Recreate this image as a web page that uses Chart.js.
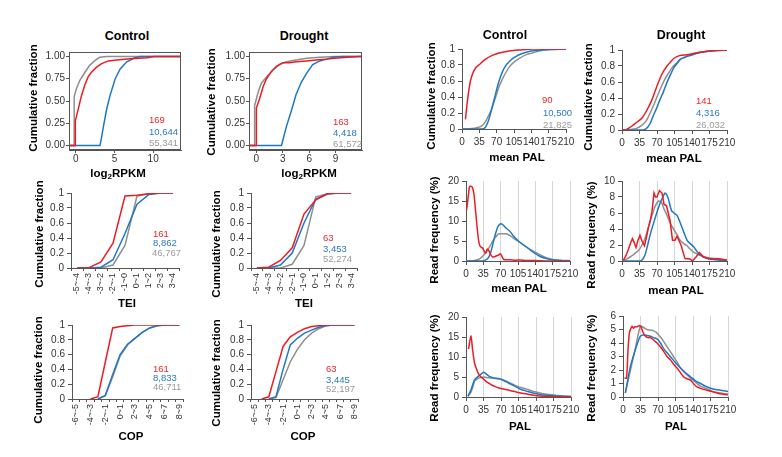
<!DOCTYPE html>
<html><head><meta charset="utf-8">
<title>Cumulative fraction and read frequency</title>
<script src="https://cdn.jsdelivr.net/npm/chart.js@4.4.1/dist/chart.umd.min.js"></script>
<style>
html,body{margin:0;padding:0;background:#fff}
body{width:782px;height:457px;position:relative;overflow:hidden;font-family:"Liberation Sans",Arial,sans-serif}
canvas{position:absolute}
.lb{position:absolute;white-space:nowrap;line-height:1;z-index:5}
.c{transform:translate(-50%,-50%);font-weight:bold;color:#000}
.r{transform:translate(-50%,-50%) rotate(-90deg);font-weight:bold;color:#000;font-size:11.5px}
.x{font-size:11.5px}
.n{transform:translateY(-50%);font-size:9.5px}
.red{color:#e8262c}.blue{color:#2b78c0}.gray{color:#9a9a9a}
sub{font-size:0.7em;vertical-align:-0.25em;line-height:0}
</style></head><body>
<script>
// ---------- categories and ticks ----------
const teiCats = ['-5~-4','-4~-3','-3~-2','-2~-1','-1~0','0~1','1~2','2~3','3~4'];
const copCats = ['-6~-5','-5~-4','-4~-3','-3~-2','-2~-1','-1~0','0~1','1~2','2~3','3~4','4~5','5~6','6~7','7~8','8~9'];
const rpkmYTicks = [0,0.25,0.5,0.75,1];
const rpkmCtrlXTicks = [0,5,10];
const rpkmDrXTicks = [0,3,6,9];
const cumYTicks = [0,0.2,0.4,0.6,0.8,1];
const palXTicks = [0,35,70,105,140,175,210];
const freqCtrlYTicks = [0,5,10,15,20];
const freqDrMeanYTicks = [0,2,4,6,8,10];
const freqDrPalYTicks = [0,1,2,3,4,5,6];

// ---------- log2RPKM, Control ----------
const rpkmCtrlRedX = [-0.87,-0.05,-0.05,0.1,0.3,0.74,1.17,1.6,2.0,2.7,3.35,4.2,5.3,7.0,9.2,10.1,13.6];
const rpkmCtrlRedY = [0,0,0.28,0.33,0.4,0.56,0.68,0.77,0.82,0.88,0.92,0.95,0.96,0.975,0.985,1,1];
const rpkmCtrlBlueX = [-0.87,3.13,3.35,3.57,4.0,4.43,5.1,5.74,6.6,7.5,8.3,13.6];
const rpkmCtrlBlueY = [0,0,0.1,0.21,0.41,0.56,0.75,0.86,0.94,0.98,1,1];
const rpkmCtrlGrayX = [-0.87,-0.2,-0.2,0.1,0.52,1.17,1.8,2.5,3.1,4.0,13.6];
const rpkmCtrlGrayY = [0,0,0.55,0.64,0.73,0.82,0.9,0.955,0.99,1,1];
// ---------- log2RPKM, Drought ----------
const rpkmDrRedX = [-0.84,0,0,0.38,0.76,1.14,1.7,2.27,3.0,3.8,4.5,5.7,6.8,7.95,9.5,11.7,12];
const rpkmDrRedY = [0,0,0.42,0.53,0.66,0.75,0.83,0.89,0.93,0.93,0.94,0.95,0.96,0.97,0.985,1,1];
const rpkmDrBlueX = [-0.84,2.85,3.4,4.0,4.5,5.1,5.7,6.4,7.2,8.0,8.7,9.8,12];
const rpkmDrBlueY = [0,0,0.21,0.4,0.57,0.71,0.81,0.91,0.95,0.97,0.99,1,1];
const rpkmDrGrayX = [-0.84,-0.2,-0.2,0.2,0.57,1.14,1.9,2.65,3.4,4.5,5.7,7.2,9,12];
const rpkmDrGrayY = [0,0,0.45,0.6,0.7,0.77,0.85,0.91,0.94,0.96,0.98,0.99,1,1];

// ---------- TEI ----------
const teiCtrlRed = [0,0.005,0.08,0.33,0.96,0.97,0.99,1,1];
const teiCtrlBlue = [0,0,0.01,0.11,0.46,0.85,0.98,1,1];
const teiCtrlGray = [0,0,0,0.04,0.3,0.96,0.99,1,1];
const teiDrRed = [0,0.01,0.1,0.27,0.72,0.91,0.99,1,1];
const teiDrBlue = [0,0,0.04,0.2,0.6,0.92,0.99,1,1];
const teiDrGray = [0,0,0,0.05,0.3,0.95,0.99,1,1];

// ---------- COP ----------
const copCtrlRed = [null,null,0,0.03,0.5,0.96,0.98,0.99,1,1,1,1,1,1,1];
const copCtrlBlue = [null,null,null,0,0.05,0.33,0.6,0.74,0.82,0.9,0.96,0.99,1,1,1];
const copCtrlGray = [null,null,null,0,0.04,0.3,0.58,0.73,0.82,0.9,0.96,0.99,1,1,1];
const copDrRed = [null,0,0.03,0.37,0.71,0.84,0.9,0.95,0.98,0.99,1,1,1,1,1];
const copDrBlue = [null,null,0,0.03,0.4,0.73,0.82,0.89,0.93,0.97,0.99,1,1,1,1];
const copDrGray = [null,null,0,0.02,0.26,0.5,0.67,0.8,0.89,0.95,0.99,1,1,1,1];

// ---------- mean PAL cumulative ----------
const palCumCtrlRedX = [7,10,13.5,17,22,27,34,47,61,75,95,122,142,210];
const palCumCtrlRedY = [0.12,0.3,0.47,0.6,0.7,0.76,0.8,0.87,0.92,0.95,0.975,0.99,1,1];
const palCumCtrlBlueX = [0,40,47,52,57,62,67,72,77,82,88,95,102,110,120,135,150,175,210];
const palCumCtrlBlueY = [0,0,0.02,0.08,0.18,0.3,0.42,0.54,0.64,0.72,0.79,0.84,0.88,0.91,0.94,0.97,0.98,0.995,1];
const palCumCtrlGrayX = [0,20,30,40,47,54,61,68,75,82,88,95,102,115,130,142,160,175,210];
const palCumCtrlGrayY = [0,0.005,0.015,0.04,0.09,0.17,0.27,0.4,0.53,0.63,0.7,0.77,0.82,0.88,0.93,0.95,0.98,0.99,1];
const palCumDrRedX = [0,8,10,20,30,40,50,60,70,80,90,97,105,115,130,145,160,180,210];
const palCumDrRedY = [0,0,0.01,0.05,0.1,0.15,0.25,0.38,0.55,0.7,0.8,0.85,0.9,0.93,0.94,0.96,0.975,0.99,1];
const palCumDrBlueX = [0,42,47,52,57,62,69,76,83,89,96,103,110,116,126,136,156,183,210];
const palCumDrBlueY = [0,0,0.01,0.04,0.09,0.17,0.27,0.38,0.48,0.58,0.68,0.77,0.83,0.88,0.91,0.93,0.97,0.99,1];
const palCumDrGrayX = [0,15,29,40,49,59,66,73,80,86,93,99,108,116,126,136,156,180,210];
const palCumDrGrayY = [0,0.005,0.02,0.06,0.12,0.25,0.35,0.46,0.56,0.64,0.71,0.77,0.83,0.88,0.91,0.94,0.97,0.99,1];

// ---------- mean PAL read frequency ----------
const freqMeanCtrlRedX = [1,4,7,10,13,16,19,22,25,28,31,34,37,40,43,46,50,54,58,62,66,69,72,76,80,90,100,110,120,130,140,150,160,210];
const freqMeanCtrlRedY = [12.7,15.5,18.5,18.7,18.4,16.8,13,9,5.5,3.8,3.4,3.2,2.4,2.0,3.0,2.6,1.6,1.0,1.1,1.3,1.5,1.8,1.3,0.4,0.3,0.3,0.2,0.25,0.15,0.1,0.1,0.05,0,0];
const freqMeanCtrlBlueX = [0,35,40,45,50,55,60,65,70,75,80,88,95,108,122,135,148,162,176,190,210];
const freqMeanCtrlBlueY = [0,0,0.3,0.8,2.2,4.6,7.0,8.7,9.3,9.0,8.3,7.5,6.4,4.75,3.5,2.25,1.25,0.6,0.25,0.1,0];
const freqMeanCtrlGrayX = [0,10,17,25,30,35,41,48,55,60,65,70,75,81,88,95,108,122,135,149,162,175,190,210];
const freqMeanCtrlGrayY = [0,0,0.1,0.4,0.8,1.4,2.25,3.6,5.2,6.0,6.7,6.8,6.8,6.8,6.4,5.8,4.75,3.5,2.5,1.6,0.8,0.4,0.2,0.1];
const freqMeanDrRedX = [3,8,13,18,21,25,28,32,36,40,45,49,53,57,60,64,67,70,75,80,84,89,96,101,106,110,118,126,136,141,148,155,163,176,190,203,210];
const freqMeanDrRedY = [0.1,0.7,1.5,2.4,2.8,2.2,1.7,2.6,3.2,2.5,1.9,3.0,4.2,5.2,6.2,8.5,8.0,8.0,8.8,8.5,7.1,6.9,5.1,2.6,2.6,3.1,2.0,0.3,0.25,0,0.5,1.05,0.5,0.25,0.3,0.2,0.1];
const freqMeanDrBlueX = [0,36,41,46,51,56,61,66,71,76,81,86,90,93,99,104,110,116,123,130,136,143,150,156,163,170,183,196,210];
const freqMeanDrBlueY = [0,0,0.2,0.75,1.9,3.2,4.3,5.3,6.3,7.2,7.9,8.5,8.2,7.7,6.3,6.0,5.7,4.85,3.7,2.6,2.2,1.8,1.2,0.75,0.5,0.3,0.2,0.1,0.05];
const freqMeanDrGrayX = [0,8,16,25,33,40,46,53,60,66,73,79,84,90,96,103,110,116,123,130,136,143,150,156,170,183,196,210];
const freqMeanDrGrayY = [0,0.2,0.5,0.9,1.3,2.0,2.8,4.3,5.7,6.8,7.5,7.3,6.5,5.7,4.8,4.0,3.3,2.6,2.2,1.9,1.5,1.1,0.9,0.7,0.45,0.3,0.2,0.1];

// ---------- PAL read frequency ----------
const freqPalCtrlRedX = [5,10,13,17,21,25,30,35,40,45,50,55,62,70,82,92,102,112,122,132,142,152,162,181,201,210];
const freqPalCtrlRedY = [12,15.3,12,8.5,7,5.8,5,4.5,3.9,3.5,3.1,2.8,2.4,2.1,1.8,1.5,1.2,0.95,0.75,0.5,0.33,0.2,0.15,0.08,0.05,0.03];
const freqPalCtrlBlueX = [4,10,14,17,21,25,30,35,40,45,50,55,60,65,70,75,82,88,95,102,108,115,125,135,145,155,168,181,195,210];
const freqPalCtrlBlueY = [0.2,1.8,3.3,4.3,4.8,5.2,5.7,6.2,5.8,5.3,5.0,4.75,4.7,4.6,4.4,4.1,3.7,3.3,2.9,2.4,2.0,1.7,1.3,1.0,0.7,0.5,0.35,0.25,0.15,0.1];
const freqPalCtrlGrayX = [4,10,14,17,21,25,30,35,40,45,55,68,75,82,88,95,105,115,125,135,145,155,168,181,195,210];
const freqPalCtrlGrayY = [0.2,1.2,2.6,3.9,4.4,4.7,4.9,5.0,4.9,4.8,4.7,4.5,4.25,3.9,3.5,3.1,2.6,2.2,1.8,1.4,1.1,0.8,0.6,0.4,0.25,0.15];
const freqPalDrRedX = [3,7,10,13,16,18,21,24,28,33,36,40,45,50,55,62,68,75,81,88,95,101,108,115,121,128,135,142,148,158,168,178,188,198,208,212];
const freqPalDrRedY = [1.4,1.4,3.5,4.8,5.1,5.25,5.1,5.2,5.2,5.3,5.2,4.8,4.5,4.4,4.4,4.2,4.0,3.7,3.4,3.0,2.75,2.45,2.15,1.8,1.5,1.35,1.25,0.95,0.75,0.6,0.5,0.4,0.3,0.22,0.17,0.15];
const freqPalDrBlueX = [4.7,14.7,24.7,30,34.7,41,48,55,61,68,75,81,90,98,106,115,125,135,145,155,165,175,185,195,205,212];
const freqPalDrBlueY = [0.3,2.25,3.5,4.1,4.5,4.6,4.55,4.5,4.4,4.3,4.0,3.6,3.2,2.85,2.5,2.15,1.8,1.5,1.2,1.0,0.8,0.65,0.55,0.5,0.45,0.4];
const freqPalDrGrayX = [4.7,14.7,24.7,34.7,41,48,55,61,66,71,78,85,93,101,108,115,125,135,145,155,168,181,195,208,212];
const freqPalDrGrayY = [0.3,1.95,3.6,5.25,5.15,5.0,4.95,4.9,4.8,4.6,4.3,3.9,3.45,3.0,2.6,2.15,1.75,1.4,1.1,0.8,0.6,0.4,0.3,0.22,0.2];

// ---------- drawing ----------
const RED = '#ec1c24', BLUE = '#1f78c4', GRAY = '#8f8f8f', AXC = '#555';
Chart.defaults.font.family = "'Liberation Sans', Arial, sans-serif";
Chart.defaults.font.size = 10;
Chart.defaults.color = '#333';
Chart.defaults.animation = false;

const framePlugin = {
  id: 'frame',
  afterDraw(ch) {
    const a = ch.chartArea, ctx = ch.ctx;
    ctx.save(); ctx.strokeStyle = AXC; ctx.lineWidth = 1;
    ctx.strokeRect(Math.round(a.left) + 0.5, Math.round(a.top) + 0.5, Math.round(a.right - a.left) - 1, Math.round(a.bottom - a.top) - 1);
    ctx.restore();
  }
};

function xy(xs, ys) { return xs.map((x, i) => ({ x: x, y: ys[i] })); }
function ds(data, color, extra) {
  return Object.assign({ data: data, borderColor: color, backgroundColor: color, borderWidth: 1.5,
    pointRadius: 0, pointHoverRadius: 0, fill: false, tension: 0, showLine: true }, extra || {});
}
const fmtNum = v => String(+v.toFixed(2));

function makePanel(p) {
  const padL = 46, padT = 8, padR = 18, padB = 50, YW = 36, XH = 42;
  const L = Math.round(p.L), T = Math.round(p.T), R = Math.round(p.R), B = Math.round(p.B);
  const cv = document.createElement('canvas');
  const W = R - L + padL + padR, H = B - T + padT + padB;
  cv.width = W; cv.height = H;
  cv.style.left = (L - padL) + 'px'; cv.style.top = (T - padT) + 'px';
  cv.style.width = W + 'px'; cv.style.height = H + 'px';
  document.body.appendChild(cv);

  const y = {
    type: 'linear', min: p.ymin, max: p.ymax,
    afterBuildTicks: s => { s.ticks = p.yticks.map(v => ({ value: v })); },
    afterFit: s => { s.width = YW; s.paddingTop = 0; s.paddingBottom = 0; },
    ticks: { autoSkip: false, callback: p.yfmt || fmtNum, padding: p.gg ? 1 : 3, color: '#333', font: { size: 10 } },
    grid: { drawOnChartArea: false, tickLength: p.gg ? 3 : 4, color: AXC, tickColor: AXC },
    border: { color: AXC, width: 1 }
  };
  let x;
  if (p.cats) {
    x = {
      type: 'category', offset: true,
      afterFit: s => { s.height = XH; s.paddingLeft = 0; s.paddingRight = 0; },
      ticks: { autoSkip: false, minRotation: 90, maxRotation: 90, padding: 2, color: '#333', font: { size: 9 },
        callback: (v, i) => (p.every2 && i % 2) ? '' : p.cats[i] },
      grid: { offset: true, drawOnChartArea: false, tickLength: 3, color: AXC, tickColor: AXC },
      border: { color: AXC, width: 1 }
    };
  } else {
    x = {
      type: 'linear', min: p.xmin, max: p.xmax,
      afterBuildTicks: s => { s.ticks = p.xticks.map(v => ({ value: v })); },
      afterFit: s => { s.height = XH; s.paddingLeft = 0; s.paddingRight = 0; },
      ticks: { autoSkip: false, minRotation: 0, maxRotation: 0, padding: p.gg ? 0 : 3, color: '#333', font: { size: 10 },
        callback: v => String(v) },
      grid: { drawOnChartArea: !!p.vgrid, color: p.vgrid ? '#d6d6d6' : AXC, tickColor: AXC, tickLength: p.gg ? 3 : 4 },
      border: { color: AXC, width: 1 }
    };
  }
  new Chart(cv, {
    type: p.cats ? 'line' : 'scatter',
    data: p.cats ? { labels: p.cats, datasets: p.sets } : { datasets: p.sets },
    options: {
      responsive: false, animation: false, devicePixelRatio: 1,
      layout: { padding: { left: padL - YW, top: padT, right: padR, bottom: padB - XH } },
      plugins: { legend: { display: false }, tooltip: { enabled: false }, title: { display: false } },
      scales: { x: x, y: y }
    },
    plugins: p.gg ? [framePlugin] : []
  });
}

const mono = { cubicInterpolationMode: 'monotone' };
const smooth = { tension: 0.25 };
const panels = [
  { L: 69, T: 52, R: 181, B: 150, gg: true, xmin: -0.87, xmax: 13.6, xticks: rpkmCtrlXTicks, ymin: -0.05, ymax: 1.05, yticks: rpkmYTicks, yfmt: v => v.toFixed(2),
    sets: [ds(xy(rpkmCtrlRedX, rpkmCtrlRedY), RED), ds(xy(rpkmCtrlBlueX, rpkmCtrlBlueY), BLUE), ds(xy(rpkmCtrlGrayX, rpkmCtrlGrayY), GRAY)] },
  { L: 249, T: 52, R: 362, B: 150, gg: true, xmin: -0.84, xmax: 12, xticks: rpkmDrXTicks, ymin: -0.05, ymax: 1.05, yticks: rpkmYTicks, yfmt: v => v.toFixed(2),
    sets: [ds(xy(rpkmDrRedX, rpkmDrRedY), RED), ds(xy(rpkmDrBlueX, rpkmDrBlueY), BLUE), ds(xy(rpkmDrGrayX, rpkmDrGrayY), GRAY)] },
  { L: 71, T: 193, R: 179, B: 268, cats: teiCats, ymin: 0, ymax: 1, yticks: cumYTicks,
    sets: [ds(teiCtrlRed, RED), ds(teiCtrlBlue, BLUE), ds(teiCtrlGray, GRAY)] },
  { L: 251, T: 193, R: 357, B: 268, cats: teiCats, ymin: 0, ymax: 1, yticks: cumYTicks,
    sets: [ds(teiDrRed, RED), ds(teiDrBlue, BLUE), ds(teiDrGray, GRAY)] },
  { L: 72, T: 325, R: 183, B: 399, cats: copCats, every2: true, ymin: 0, ymax: 1, yticks: cumYTicks,
    sets: [ds(copCtrlRed, RED), ds(copCtrlBlue, BLUE), ds(copCtrlGray, GRAY)] },
  { L: 251, T: 325, R: 358, B: 399, cats: copCats, every2: true, ymin: 0, ymax: 1, yticks: cumYTicks,
    sets: [ds(copDrRed, RED), ds(copDrBlue, BLUE), ds(copDrGray, GRAY)] },
  { L: 462, T: 49, R: 566, B: 129, xmin: 0, xmax: 210, xticks: palXTicks, ymin: 0, ymax: 1, yticks: cumYTicks,
    sets: [ds(xy(palCumCtrlRedX, palCumCtrlRedY), RED, mono), ds(xy(palCumCtrlBlueX, palCumCtrlBlueY), BLUE, mono), ds(xy(palCumCtrlGrayX, palCumCtrlGrayY), GRAY, mono)] },
  { L: 622, T: 50, R: 727, B: 130, xmin: 0, xmax: 210, xticks: palXTicks, ymin: 0, ymax: 1, yticks: cumYTicks,
    sets: [ds(xy(palCumDrRedX, palCumDrRedY), RED, mono), ds(xy(palCumDrBlueX, palCumDrBlueY), BLUE, mono), ds(xy(palCumDrGrayX, palCumDrGrayY), GRAY, mono)] },
  { L: 466, T: 181, R: 570, B: 261, vgrid: true, xmin: 0, xmax: 210, xticks: palXTicks, ymin: 0, ymax: 20, yticks: freqCtrlYTicks,
    sets: [ds(xy(freqMeanCtrlRedX, freqMeanCtrlRedY), RED, smooth), ds(xy(freqMeanCtrlBlueX, freqMeanCtrlBlueY), BLUE, smooth), ds(xy(freqMeanCtrlGrayX, freqMeanCtrlGrayY), GRAY, smooth)] },
  { L: 622, T: 181, R: 727, B: 261, vgrid: true, xmin: 0, xmax: 210, xticks: palXTicks, ymin: 0, ymax: 10, yticks: freqDrMeanYTicks,
    sets: [ds(xy(freqMeanDrRedX, freqMeanDrRedY), RED), ds(xy(freqMeanDrBlueX, freqMeanDrBlueY), BLUE, smooth), ds(xy(freqMeanDrGrayX, freqMeanDrGrayY), GRAY, smooth)] },
  { L: 466, T: 317, R: 571, B: 397, vgrid: true, xmin: 0, xmax: 210, xticks: palXTicks, ymin: 0, ymax: 20, yticks: freqCtrlYTicks,
    sets: [ds(xy(freqPalCtrlRedX, freqPalCtrlRedY), RED, smooth), ds(xy(freqPalCtrlBlueX, freqPalCtrlBlueY), BLUE, smooth), ds(xy(freqPalCtrlGrayX, freqPalCtrlGrayY), GRAY, smooth)] },
  { L: 623, T: 316, R: 728, B: 397, vgrid: true, xmin: 0, xmax: 210, xticks: palXTicks, ymin: 0, ymax: 6, yticks: freqDrPalYTicks,
    sets: [ds(xy(freqPalDrRedX, freqPalDrRedY), RED, smooth), ds(xy(freqPalDrBlueX, freqPalDrBlueY), BLUE, smooth), ds(xy(freqPalDrGrayX, freqPalDrGrayY), GRAY, smooth)] }
];
panels.forEach(makePanel);
</script>

<!-- titles -->
<div class="lb c" style="left:127px;top:36px;font-size:12.5px">Control</div>
<div class="lb c" style="left:304px;top:36px;font-size:12.5px">Drought</div>
<div class="lb c" style="left:505px;top:35px;font-size:12.5px">Control</div>
<div class="lb c" style="left:681px;top:35px;font-size:12.5px">Drought</div>

<!-- y axis titles -->
<div class="lb r" style="left:34px;top:98px">Cumulative fraction</div>
<div class="lb r" style="left:212px;top:102px">Cumulative fraction</div>
<div class="lb r" style="left:40px;top:234px">Cumulative fraction</div>
<div class="lb r" style="left:217px;top:244px">Cumulative fraction</div>
<div class="lb r" style="left:39px;top:370px">Cumulative fraction</div>
<div class="lb r" style="left:217px;top:373px">Cumulative fraction</div>
<div class="lb r" style="left:432px;top:96px">Cumulative fraction</div>
<div class="lb r" style="left:589px;top:97px">Cumulative fraction</div>
<div class="lb r" style="left:435px;top:230px">Read frequency (%)</div>
<div class="lb r" style="left:592px;top:235px">Read frequency (%)</div>
<div class="lb r" style="left:435px;top:368px">Read frequency (%)</div>
<div class="lb r" style="left:592px;top:368px">Read frequency (%)</div>

<!-- x axis titles -->
<div class="lb c x" style="left:118px;top:174px">log<sub>2</sub>RPKM</div>
<div class="lb c x" style="left:309px;top:174px">log<sub>2</sub>RPKM</div>
<div class="lb c x" style="left:127px;top:304px">TEI</div>
<div class="lb c x" style="left:304px;top:304px">TEI</div>
<div class="lb c x" style="left:131px;top:437px">COP</div>
<div class="lb c x" style="left:303px;top:437px">COP</div>
<div class="lb c x" style="left:517px;top:158px">mean PAL</div>
<div class="lb c x" style="left:674px;top:159px">mean PAL</div>
<div class="lb c x" style="left:519px;top:289px">mean PAL</div>
<div class="lb c x" style="left:676px;top:291px">mean PAL</div>
<div class="lb c x" style="left:520px;top:427px">PAL</div>
<div class="lb c x" style="left:676px;top:427px">PAL</div>

<!-- counts -->
<div class="lb n red" style="left:149px;top:120px">169</div>
<div class="lb n blue" style="left:149px;top:132px">10,644</div>
<div class="lb n gray" style="left:149px;top:143px">55,341</div>
<div class="lb n red" style="left:333px;top:122px">163</div>
<div class="lb n blue" style="left:333px;top:133px">4,418</div>
<div class="lb n gray" style="left:333px;top:144px">61,572</div>
<div class="lb n red" style="left:153px;top:234px">161</div>
<div class="lb n blue" style="left:153px;top:243px">8,862</div>
<div class="lb n gray" style="left:152px;top:253px">46,767</div>
<div class="lb n red" style="left:323px;top:238px">63</div>
<div class="lb n blue" style="left:323px;top:249px">3,453</div>
<div class="lb n gray" style="left:323px;top:259px">52,274</div>
<div class="lb n red" style="left:153px;top:369px">161</div>
<div class="lb n blue" style="left:153px;top:378px">8,833</div>
<div class="lb n gray" style="left:153px;top:387px">46,711</div>
<div class="lb n red" style="left:326px;top:369px">63</div>
<div class="lb n blue" style="left:326px;top:380px">3,445</div>
<div class="lb n gray" style="left:326px;top:389px">52,197</div>
<div class="lb n red" style="left:542px;top:100px">90</div>
<div class="lb n blue" style="left:543px;top:113px">10,500</div>
<div class="lb n gray" style="left:543px;top:125px">21,825</div>
<div class="lb n red" style="left:696px;top:101px">141</div>
<div class="lb n blue" style="left:696px;top:113px">4,316</div>
<div class="lb n gray" style="left:696px;top:125px">26,032</div>
</body></html>
